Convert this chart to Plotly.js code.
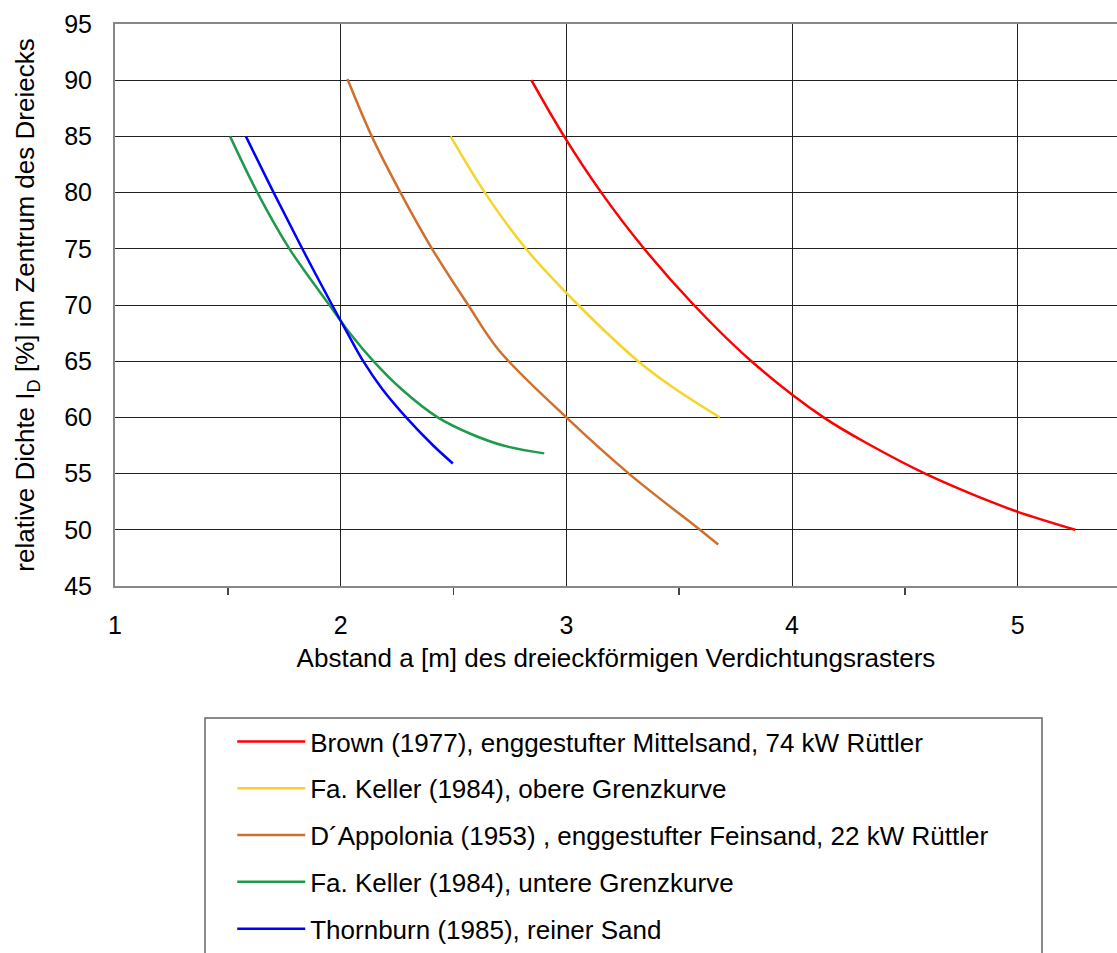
<!DOCTYPE html>
<html>
<head>
<meta charset="utf-8">
<script src="https://cdn.plot.ly/plotly-3.0.1.min.js"></script>
<style>html,body{margin:0;padding:0;background:#fff;}</style>
</head>
<body>
<div id="chart" style="width:1117px;height:953px;"></div>
<script>
// Series names
const names = [
  "Brown (1977), enggestufter Mittelsand, 74 kW Rüttler",
  "Fa. Keller (1984), obere Grenzkurve",
  "D´Appolonia (1953) , enggestufter Feinsand, 22 kW Rüttler",
  "Fa. Keller (1984), untere Grenzkurve",
  "Thornburn (1985), reiner Sand"
];
const colors = ["#FF0000", "#F6D42A", "#D0702E", "#1E9A4A", "#0000FF"];

// Brown (1977)
const brownX = [2.845, 2.99, 3.155, 3.345, 3.565, 3.82, 4.14, 4.35, 4.59, 4.88, 5.0, 5.255];
const brownY = [90, 85, 80, 75, 70, 65, 60, 57.5, 55, 52.5, 51.6, 50];

// Fa. Keller obere Grenzkurve
const kellerObX = [2.487, 2.639, 2.821, 3.053, 3.318, 3.485, 3.68];
const kellerObY = [85, 80, 75, 70, 65, 62.5, 60];

// D'Appolonia (1953)
const appX = [2.03, 2.138, 2.265, 2.405, 2.565, 2.70, 3.0, 3.277, 3.592, 3.673];
const appY = [90.1, 85, 80, 75, 70, 66.0, 60, 55, 50, 48.7];

// Fa. Keller untere Grenzkurve
const kellerUnX = [1.51, 1.631, 1.773, 1.95, 2.04, 2.145, 2.27, 2.43, 2.58, 2.72, 2.902];
const kellerUnY = [85, 80, 75, 70, 67.5, 65, 62.5, 60, 58.5, 57.5, 56.8];

// Thornburn (1985)
const thornX = [1.58, 1.703, 1.83, 1.962, 2.03, 2.1, 2.185, 2.29, 2.41, 2.497];
const thornY = [85, 80, 75, 70, 67.5, 65, 62.5, 60, 57.5, 55.9];

const xs = [brownX, kellerObX, appX, kellerUnX, thornX];
const ys = [brownY, kellerObY, appY, kellerUnY, thornY];

const xTicks = [1, 2, 3, 4, 5];
const xMinorTicks = [1.5, 2.5, 3.5, 4.5];
const yTicks = [45, 50, 55, 60, 65, 70, 75, 80, 85, 90, 95];

const FONT = "Liberation Sans, Arial, sans-serif";

const traces = xs.map((x, i) => ({
  x: x, y: ys[i], type: "scatter", mode: "lines",
  name: names[i], legendgroup: "g" + i,
  line: {color: colors[i], width: 2.5, shape: "spline", smoothing: 1},
  hoverinfo: "x+y"
}));

const layout = {
  width: 1117, height: 953,
  margin: {l: 115, r: 0, t: 24, b: 367, autoexpand: false},
  paper_bgcolor: "#fff", plot_bgcolor: "#fff",
  font: {family: FONT, color: "#000", size: 25},
  showlegend: true,
  xaxis: {
    range: [1, 5.44], tickvals: xTicks, ticktext: xTicks.map(String),
    ticks: "", ticklabelstandoff: 16,
    tickfont: {size: 25, family: FONT, color: "#000"},
    showgrid: true, gridcolor: "#222", gridwidth: 1,
    showline: true, linecolor: "#888", linewidth: 2, mirror: true,
    zeroline: false,
    minor: {tickvals: xMinorTicks, ticks: "outside", ticklen: 7, tickwidth: 1.5, tickcolor: "#444", showgrid: false},
    title: {text: "Abstand a [m] des dreieckförmigen Verdichtungsrasters", font: {size: 26, family: FONT, color: "#000"}, standoff: 11}
  },
  xaxis2: {
    overlaying: "x", matches: "x", anchor: "y", side: "bottom",
    range: [1, 5.44], showticklabels: false, showgrid: false, showline: false, zeroline: false,
    ticks: "",
    minor: {tickvals: xMinorTicks, ticks: "inside", ticklen: 6, tickwidth: 1.5, tickcolor: "#444", showgrid: false}
  },
  yaxis: {
    range: [45, 95], tickvals: yTicks, ticks: "", ticklabelstandoff: 16,
    tickfont: {size: 25, family: FONT, color: "#000"},
    showgrid: true, gridcolor: "#222", gridwidth: 1,
    showline: true, linecolor: "#888", linewidth: 2,
    zeroline: false,
    title: {text: "relative Dichte I<sub>D</sub> [%] im Zentrum des Dreiecks", font: {size: 26, family: FONT, color: "#000"}, standoff: 22}
  },
  legend: {
    x: 0.117, y: -0.235, xanchor: "left", yanchor: "top",
    bgcolor: "rgba(0,0,0,0)", borderwidth: 0,
    font: {size: 26, family: FONT, color: "#000"},
    tracegroupgap: 10, itemwidth: 68, traceorder: "grouped"
  },
  shapes: [{
    type: "rect", xref: "paper", yref: "paper",
    x0: (205 - 115) / 1002, x1: (1042 - 115) / 1002,
    y0: -0.235, y1: -0.75,
    line: {color: "#666", width: 1.5}, fillcolor: "rgba(0,0,0,0)", layer: "below"
  }]
};

Plotly.newPlot("chart", traces, layout, {displayModeBar: false, staticPlot: true});
</script>
</body>
</html>
